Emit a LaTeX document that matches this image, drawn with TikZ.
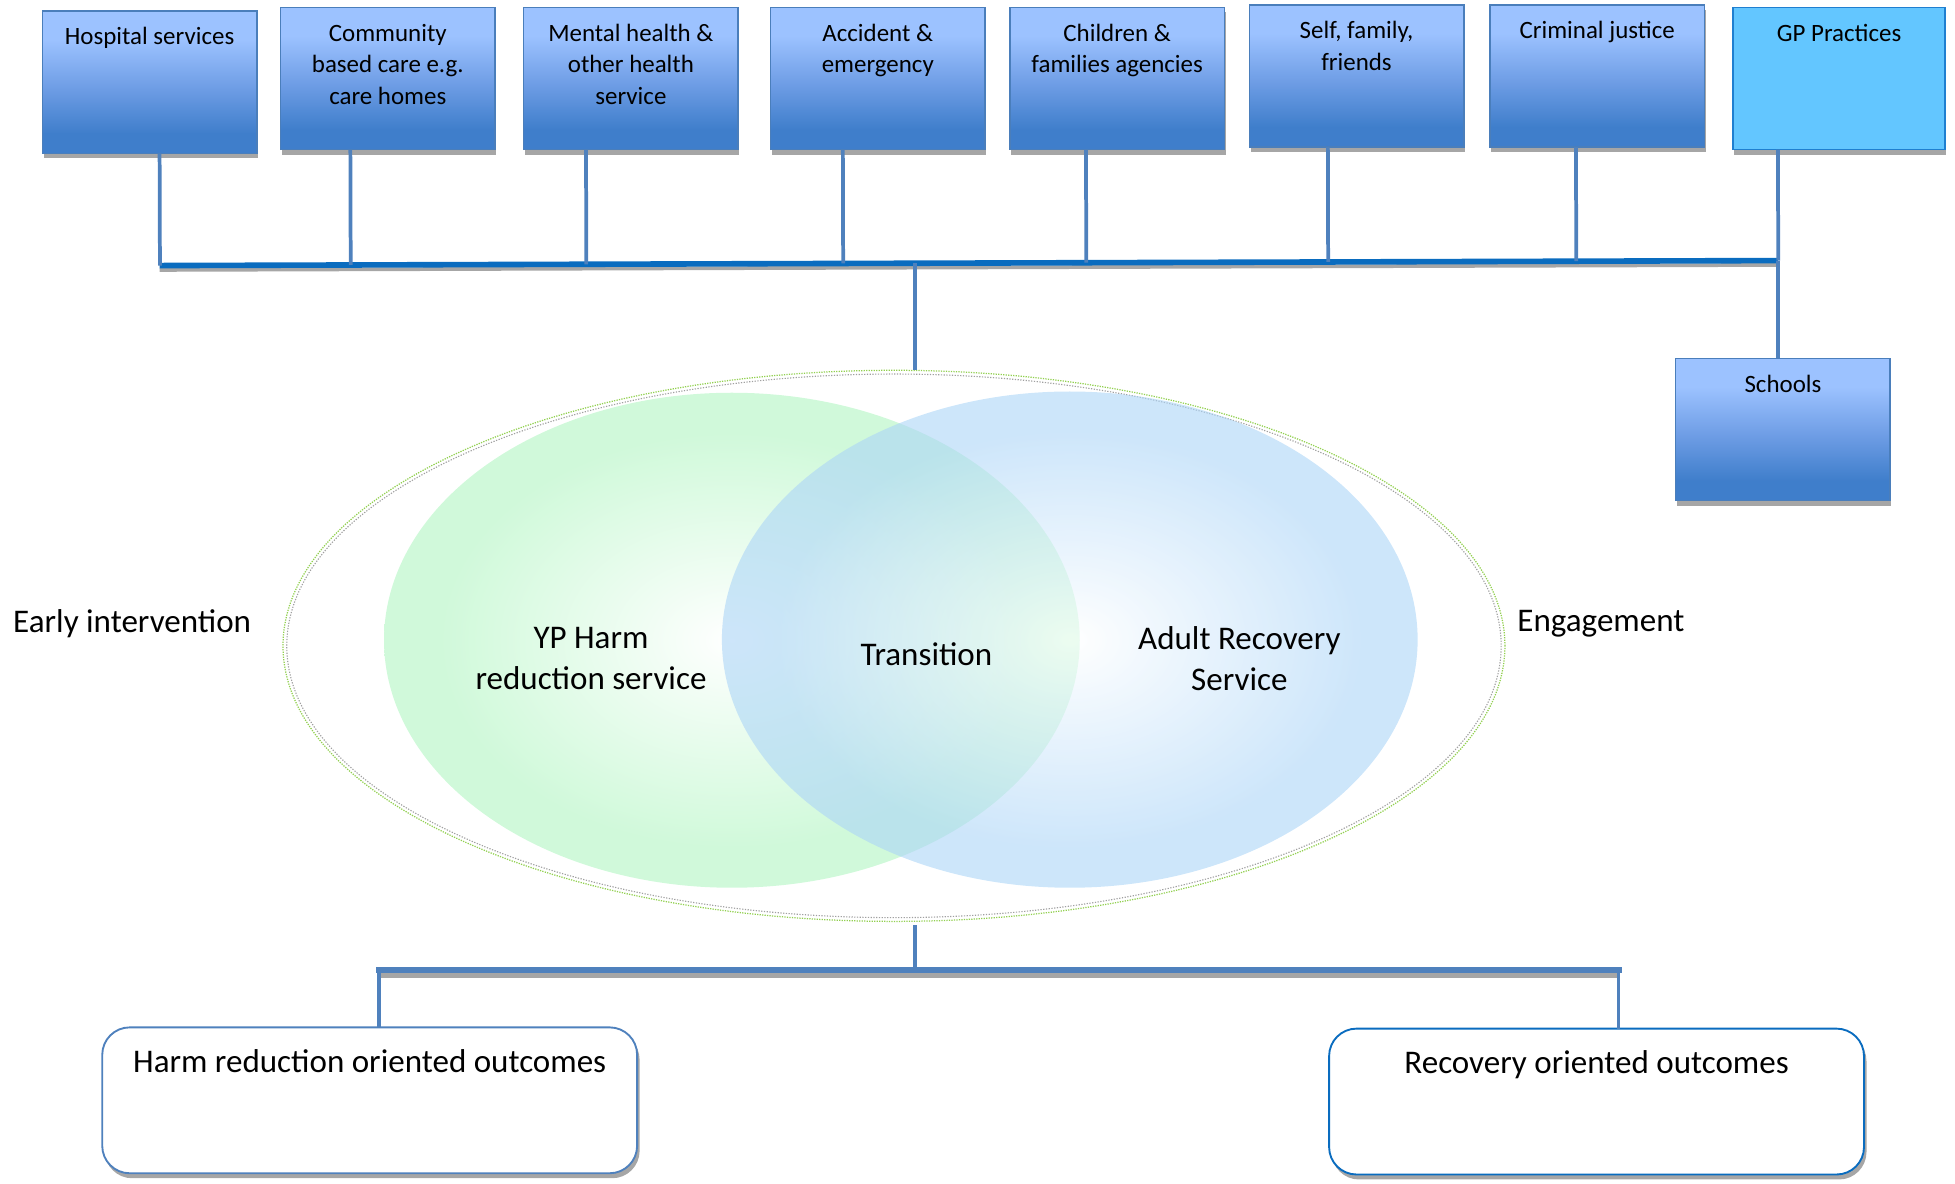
\documentclass[tikz,border=0pt]{standalone}
\usepackage{fontspec}
\setmainfont{Carlito}
\usetikzlibrary{calc,shapes.geometric,shadows}

\definecolor{boxtop}{HTML}{9CC2FF}
\definecolor{boxmid}{HTML}{6E9DE5}
\definecolor{boxbot}{HTML}{3F7ECB}
\definecolor{boxline}{HTML}{4A7EBB}
\definecolor{gpfill}{HTML}{63C6FF}
\definecolor{gpline}{HTML}{1F7FD0}
\definecolor{connblue}{HTML}{4F81BD}
\definecolor{barblue}{HTML}{0A6CBF}
\definecolor{shadowgray}{HTML}{A6A6A6}
\definecolor{ypgreen}{HTML}{D0F9DA}
\definecolor{adblue}{HTML}{ACD5F7}
\definecolor{rimgreen}{HTML}{92D050}
\definecolor{rimgray}{HTML}{A0A0A0}

% light at the top, deep blue towards the bottom edge
\pgfdeclareverticalshading{boxshade}{100bp}{%
  color(0bp)=(boxbot); color(32bp)=(boxbot); color(48bp)=(boxmid);
  color(65bp)=(boxtop); color(100bp)=(boxtop)}
% pale centre fading out to the service colour
\pgfdeclareradialshading{ypshade}{\pgfpoint{0bp}{0bp}}{%
  color(0bp)=(white); color(6bp)=(white!70!ypgreen);
  color(21bp)=(ypgreen); color(50bp)=(ypgreen)}
\pgfdeclareradialshading{adshade}{\pgfpoint{0bp}{0bp}}{%
  color(0bp)=(white); color(6bp)=(white!70!adblue);
  color(21bp)=(adblue); color(50bp)=(adblue)}

\tikzset{
  boxbase/.style={rectangle, line width=1.2,
    minimum width=172, minimum height=114, inner sep=0, outer sep=0,
    drop shadow={shadow xshift=1pt, shadow yshift=-4pt, fill=shadowgray, opacity=1}},
  srcbox/.style={boxbase, draw=boxline, shading=boxshade},
  gpbox/.style={boxbase, fill=gpfill, draw=gpline, minimum width=170},
  boxtxt/.style={anchor=north, inner sep=0, align=center,
    font=\fontsize{20}{25.5}\selectfont},
  conn/.style={draw=connblue, line width=3},
  bigtxt/.style={inner sep=0, align=center, font=\fontsize{26.5}{33}\selectfont},
  outbox/.style={rectangle, rounded corners=22, draw=connblue, line width=1.5,
    fill=white, minimum width=429, minimum height=117, inner sep=0, outer sep=0,
    drop shadow={shadow xshift=2pt, shadow yshift=-4pt, fill=shadowgray, opacity=1}},
}

\begin{document}
\begin{tikzpicture}[x=1pt, y=-1pt]
\useasboundingbox (0,0) rectangle (1568,949);

% ---------- referral sources ----------
\node[srcbox] (hosp)  at (120,66)  {};
\node[srcbox] (comm)  at (311,63)  {};
\node[srcbox] (ment)  at (506,63)  {};
\node[srcbox] (acc)   at (704,63)  {};
\node[srcbox] (child) at (896,63)  {};
\node[srcbox] (self)  at (1088,61) {};
\node[srcbox] (crim)  at (1281,61) {};
\node[gpbox]  (gp)    at (1475,63) {};
\node[srcbox] (sch)   at (1430,344.5) {};

\node[boxtxt] (hosp-t)  at ([yshift=-9]hosp.north)  {\strut Hospital services};
\node[boxtxt] (comm-t)  at ([yshift=-9]comm.north)  {\strut Community\\based care e.g.\\care homes};
\node[boxtxt] (ment-t)  at ([yshift=-9]ment.north)  {\strut Mental health \&\\other health\\service};
\node[boxtxt] (acc-t)   at ([yshift=-9]acc.north)   {\strut Accident \&\\emergency};
\node[boxtxt] (child-t) at ([yshift=-9]child.north) {\strut Children \&\\families agencies};
\node[boxtxt] (self-t)  at ([yshift=-9]self.north)  {\strut Self, family,\\friends};
\node[boxtxt] (crim-t)  at ([yshift=-9]crim.north)  {\strut Criminal justice};
\node[boxtxt] (gp-t)    at ([yshift=-9]gp.north)    {\strut GP Practices};
\node[boxtxt] (sch-t)   at ([yshift=-9]sch.north)   {\strut Schools};

% ---------- collecting bar ----------
\coordinate (barL) at (128,213);
\coordinate (barR) at (1426,209);
\draw[shadowgray, line width=3] ([yshift=-3.5]barL) -- ([yshift=-3.5]barR);
\draw[barblue, line width=4.5] (barL) -- (barR);

\foreach \b/\dx in {hosp/8, comm/-30, ment/-36, acc/-28, child/-25, self/-23, crim/-17, gp/-49}{
  \coordinate (\b-c) at ([xshift=\dx]\b.south);
  \draw[conn] (\b-c) -- ($(barL)!(\b-c)!(barR)$);
}
\draw[conn] (barR) -- (barR |- sch.north);

% ---------- services ----------
\node[ellipse, draw=rimgreen, line width=1, dash pattern=on 1pt off 1pt,
  minimum width=980, minimum height=442, inner sep=0, outer sep=0] (outer) at (717,518) {};
\draw[rimgray, line width=0.9, dash pattern=on 1pt off 1.2pt]
  (outer.center) ellipse [x radius=487, y radius=218];

\node[ellipse, shading=ypshade, minimum width=558, minimum height=397,
  inner sep=0, outer sep=0] (yp) at (587,513.5) {};
\node[ellipse, shading=adshade, fill opacity=0.6, minimum width=558, minimum height=398,
  inner sep=0, outer sep=0] (ad) at (858,513) {};

\node[bigtxt] (yp-t)   at (474,528) {YP Harm\\reduction service};
\node[bigtxt] (tr-t)   at (743,525) {Transition};
\node[bigtxt] (ad-t)   at (994,528) {Adult Recovery\\Service};
\node[bigtxt] (early)  at (106,500) {Early intervention};
\node[bigtxt] (engage) at (1284,500) {Engagement};

\coordinate (hub) at ($(barL)!0.4669!(barR)$);
\draw[conn] (hub) -- (hub |- outer.north);

% ---------- outcomes ----------
\coordinate (bL) at (304,778);
\coordinate (bR) at (1298,778);
\coordinate (bHub) at (bL -| hub);
\node[outbox] (hro) at (296.5,882.5) {};
\node[outbox, draw=barblue] (roo) at (1280.5,883.5) {};
\node[bigtxt, anchor=base] (hro-t) at ([yshift=-36]hro.north) {Harm reduction oriented outcomes};
\node[bigtxt, anchor=base] (roo-t) at ([yshift=-36]roo.north) {Recovery oriented outcomes};

\draw[conn] ([yshift=-3]outer.south -| hub) -- (bHub);
\draw[shadowgray, line width=4] ([yshift=-4]bL) -- ([yshift=-4]bR);
\draw[connblue, line width=5, line cap=rect] (bL) -- (bR);
\draw[conn] (bL) -- (bL |- hro.north);
\draw[conn] (bR) -- (bR |- roo.north);
\end{tikzpicture}
\end{document}
